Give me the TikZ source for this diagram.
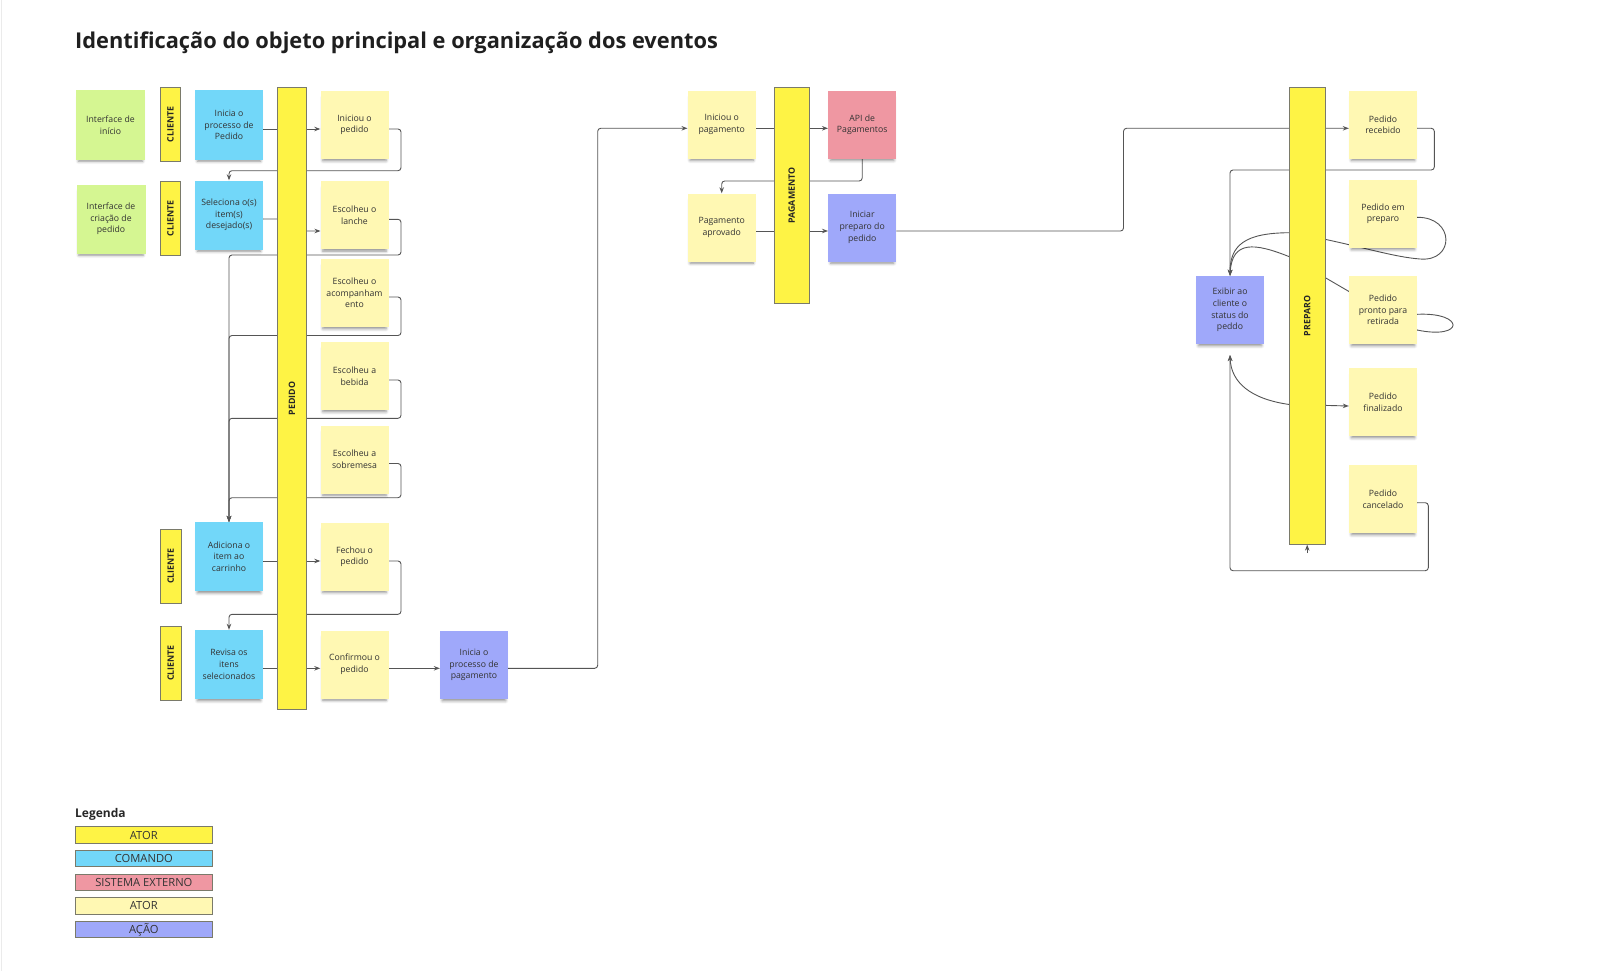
\documentclass[tikz,border=0pt]{standalone}
\usepackage{fontspec}
\setmainfont{Open Sans}
\usetikzlibrary{arrows.meta,backgrounds,shadows.blur,calc}
\definecolor{cgreen}{HTML}{D5F692}
\definecolor{cblue}{HTML}{72D7F9}
\definecolor{cevent}{HTML}{FFF8B3}
\definecolor{cactor}{HTML}{FEF345}
\definecolor{cred}{HTML}{EF97A2}
\definecolor{cpurple}{HTML}{9FA8FA}
\definecolor{cline}{HTML}{555555}
\definecolor{cborder}{HTML}{7A7A6A}
\begin{document}
\begin{tikzpicture}[x=1pt,y=-1pt,
  sticky/.style={rectangle, minimum width=68pt, minimum height=68pt, inner sep=0pt,
    align=center, font=\fontsize{8.7}{11.7}\selectfont, text=black!80,
    blur shadow={shadow xshift=0pt, shadow yshift=-4.5pt, shadow blur radius=3pt, shadow opacity=45, shadow scale=0.93}},
  green/.style={sticky, fill=cgreen, minimum width=69pt, minimum height=69pt},
  cmd/.style={sticky, fill=cblue, minimum height=69pt},
  evt/.style={sticky, fill=cevent},
  ext/.style={sticky, fill=cred},
  act/.style={sticky, fill=cpurple},
  actorbar/.style={rectangle, rotate=90, fill=cactor, draw=cborder, line width=0.7pt, inner sep=0pt,
    font=\fontsize{8.8}{10}\selectfont\bfseries, text=black!85},
  legbox/.style={rectangle, draw=cborder, line width=0.8pt, minimum width=137.7pt, minimum height=16.3pt,
    inner sep=0pt, font=\fontsize{11.2}{12}\selectfont, text=black!80},
  conn/.style={draw=cline, line width=0.9pt, rounded corners=3pt, -{Stealth[length=6pt,width=4.5pt]}}
]
\useasboundingbox (0,0) rectangle (1608,971);
\draw[black!8, line width=1pt] (1,0) -- (1,971);

\node[anchor=west, inner sep=0pt, font=\fontsize{21.8}{25}\selectfont\bfseries, text=black!88] (title) at (75,43)
  {Identificação do objeto principal e organização dos eventos};

% ---------- left block ----------
\node[green] (g1) at (110.5,125) {Interface de\\início};
\node[green] (g2) at (111,219) {Interface de\\criação de\\pedido};

\node[actorbar, minimum width=74pt, minimum height=20.5pt] (c1) at (170.5,124.5) {CLIENTE};
\node[actorbar, minimum width=74pt, minimum height=20.5pt] (c2) at (170.5,218.5) {CLIENTE};
\node[actorbar, minimum width=74pt, minimum height=20.5pt] (c3) at (170.7,566) {CLIENTE};
\node[actorbar, minimum width=74pt, minimum height=20.5pt] (c4) at (170.7,663) {CLIENTE};

\node[cmd] (b1) at (229,125) {Inicia o\\processo de\\Pedido};
\node[cmd] (b2) at (229,215) {Seleciona o(s)\\item(s)\\desejado(s)};
\node[cmd] (b3) at (229,556.7) {Adiciona o\\item ao\\carrinho};
\node[cmd] (b4) at (229,664.5) {Revisa os\\itens\\selecionados};

\node[actorbar, minimum width=622pt, minimum height=29.3pt] (pedido) at (292,398.3) {PEDIDO};

\node[evt] (e1) at (354.5,125) {Iniciou o\\pedido};
\node[evt] (e2) at (354.5,215.3) {Escolheu o\\lanche};
\node[evt] (e3) at (354.5,293) {Escolheu o\\acompanham\\ento};
\node[evt] (e4) at (354.5,376) {Escolheu a\\bebida};
\node[evt] (e5) at (354.5,459.5) {Escolheu a\\sobremesa};
\node[evt] (e6) at (354.5,556.7) {Fechou o\\pedido};
\node[evt] (e7) at (354.5,664.5) {Confirmou o\\pedido};

\node[act] (p1) at (474,665) {Inicia o\\processo de\\pagamento};

% ---------- payment block ----------
\node[evt] (pg1) at (721.7,124.7) {Iniciou o\\pagamento};
\node[evt] (pg2) at (721.7,227.5) {Pagamento\\aprovado};
\node[actorbar, minimum width=215.6pt, minimum height=35pt] (pagamento) at (791.8,195.5) {PAGAMENTO};
\node[ext] (api) at (862.2,124.7) {API de\\Pagamentos};
\node[act] (pr) at (862.2,227.5) {Iniciar\\preparo do\\pedido};

% ---------- preparo block ----------
\node[actorbar, minimum width=456.6pt, minimum height=35.7pt] (preparo) at (1307.2,316) {PREPARO};
\node[evt] (rec) at (1383,124.7) {Pedido\\recebido};
\node[evt] (emp) at (1383,213.8) {Pedido em\\preparo};
\node[evt] (pro) at (1383,310) {Pedido\\pronto para\\retirada};
\node[evt] (fin) at (1383,402) {Pedido\\finalizado};
\node[evt] (can) at (1383,499) {Pedido\\cancelado};
\node[act] (ex) at (1230,310) {Exibir ao\\cliente o\\status do\\peddo};

\coordinate (exb) at (1230,355);
\coordinate (pbot) at (1307.2,553);

% ---------- legend ----------
\node[anchor=base west, inner sep=0pt, font=\fontsize{12}{14}\selectfont\bfseries, text=black!85] (legenda) at (75,817) {Legenda};
\node[legbox, fill=cactor] (l1) at (143.85,835) {ATOR};
\node[legbox, fill=cblue] (l2) at (143.85,858.7) {COMANDO};
\node[legbox, fill=cred] (l3) at (143.85,882.3) {SISTEMA EXTERNO};
\node[legbox, fill=cevent] (l4) at (143.85,905.8) {ATOR};
\node[legbox, fill=cpurple] (l5) at (143.85,929.5) {AÇÃO};

% ---------- connectors ----------
\begin{pgfonlayer}{background}
\draw[conn] ([yshift=-4pt]b1.east) -- ([yshift=-4pt]e1.west);
\draw[conn] ([yshift=-4pt]e1.east) -| (401,170.7) -| (b2.north);
\draw[conn] ([yshift=-4pt]b2.east) -- (292,219) -- (292,231) -- (320.5,231);
\draw[conn] ([yshift=-4pt]e2.east) -| (401,255) -| (b3.north);
\draw[conn] ([yshift=-4pt]e3.east) -| (401,335.5) -| (b3.north);
\draw[conn] ([yshift=-4pt]e4.east) -| (401,418.3) -| (b3.north);
\draw[conn] ([yshift=-4pt]e5.east) -| (401,497.7) -| (b3.north);
\draw[conn] ([yshift=-4.3pt]b3.east) -- ([yshift=-4.3pt]e6.west);
\draw[conn] ([yshift=-4.3pt]e6.east) -| (401,614.3) -| (b4.north);
\draw[conn] ([yshift=-3.8pt]b4.east) -- ([yshift=-3.8pt]e7.west);
\draw[conn] ([yshift=-3.8pt]e7.east) -- ([yshift=-3.3pt]p1.west);
\draw[conn] ([yshift=-3.3pt]p1.east) -| (597.7,128.3) -- ([yshift=-3.6pt]pg1.west);

\draw[conn] ([yshift=-3.6pt]pg1.east) -- ([yshift=-3.6pt]api.west);
\draw[conn] (api.south) |- (721.7,181) -- (pg2.north);
\draw[conn] ([yshift=-3.5pt]pg2.east) -- ([yshift=-3.5pt]pr.west);
\draw[conn] ([yshift=-3.5pt]pr.east) -| (1123.5,128.3) -- ([yshift=-3.6pt]rec.west);

\draw[conn] ([yshift=-3.6pt]rec.east) -| (1434.3,170) -| (ex.north);
\draw[conn, rounded corners=0pt] ([yshift=-3.5pt]emp.east) .. controls (1455,217) and (1455,262) .. (1420,259)
   .. controls (1395,257) and (1370,249) .. (1325,239.3) -- (1289.3,232.7)
   .. controls (1245,233) and (1230,245) .. (ex.north);
\draw[conn, rounded corners=0pt] ([yshift=-4.3pt]pro.east) .. controls (1465,312) and (1465,340) .. (1417,330)
   -- (1349.3,291.7) -- (1289.3,256.7)
   .. controls (1255,243) and (1232,240) .. (ex.north);
\draw[conn, rounded corners=0pt, {Stealth[length=6pt,width=4.5pt]}-{Stealth[length=6pt,width=4.5pt]}]
   (exb) .. controls (1231,382) and (1250,399) .. (1289.3,404.5) -- ([yshift=-4pt]fin.west);
\draw[conn] ([yshift=-3.7pt]can.east) -| (1428.3,570.7) -| (exb);
\draw[conn] (pbot) -- (preparo.west);
\end{pgfonlayer}
\end{tikzpicture}
\end{document}
